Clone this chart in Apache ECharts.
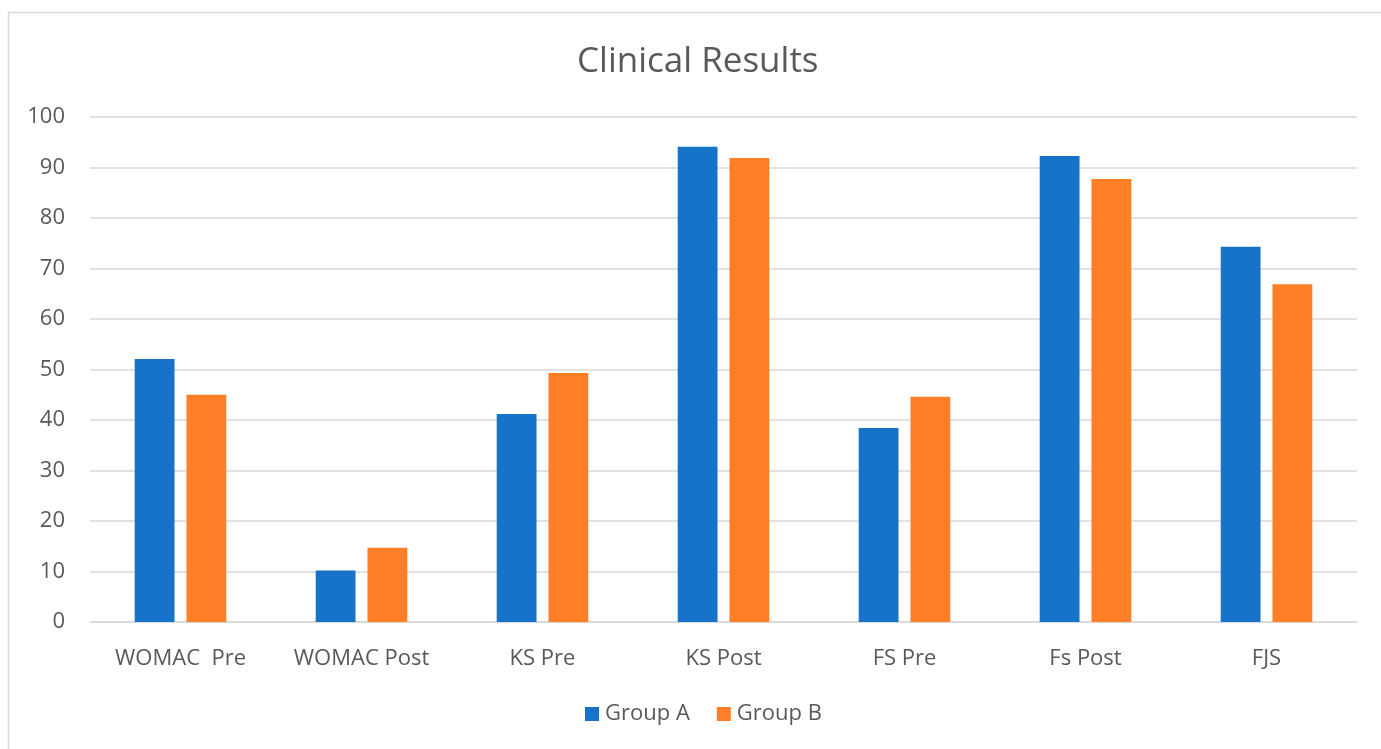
<!DOCTYPE html>
<html>
<head>
<meta charset="utf-8">
<script src="https://cdn.jsdelivr.net/npm/echarts@6/dist/echarts.min.js"></script>
<style>html,body{margin:0;padding:0;background:#fff}#c{width:1381px;height:749px}</style>
</head>
<body>
<div id="c"></div>
<script>
const categories = ['WOMAC  Pre', 'WOMAC Post', 'KS Pre', 'KS Post', 'FS Pre', 'Fs Post', 'FJS'];
const groupA = [52.1, 10.2, 41.2, 94.1, 38.4, 92.3, 74.3];
const groupB = [45.0, 14.7, 49.3, 91.9, 44.6, 87.7, 66.9];
const yTicks = [0, 10, 20, 30, 40, 50, 60, 70, 80, 90, 100];

const font = '"Open Sans", "Liberation Sans", sans-serif';
const chart = echarts.init(document.getElementById('c'), null, {renderer: 'canvas'});
chart.setOption({
  animation: false,
  backgroundColor: '#fff',
  graphic: [{
    type: 'rect', shape: {x: 8.5, y: 12.5, width: 1400, height: 800},
    style: {fill: 'none', stroke: '#d9d9d9', lineWidth: 1.5}, z: -1
  }],
  title: {
    text: 'Clinical Results', left: 572, top: 40,
    textStyle: {fontFamily: font, fontSize: 35, fontWeight: 'normal', color: '#595959'}
  },
  legend: {
    data: ['Group A', 'Group B'], bottom: 19, left: 580,
    icon: 'rect', itemWidth: 14, itemHeight: 14, itemGap: 27,
    textStyle: {fontFamily: font, fontSize: 22, color: '#595959', padding: [0, 0, 0, 1]}
  },
  grid: {left: 90, right: 24, top: 117, bottom: 127, containLabel: false},
  xAxis: {
    type: 'category', data: categories,
    axisLine: {lineStyle: {color: '#d9d9d9', width: 1.5}},
    axisTick: {show: false},
    axisLabel: {fontFamily: font, fontSize: 22, color: '#595959', margin: 26}
  },
  yAxis: {
    type: 'value', min: 0, max: 100, interval: 10,
    axisLine: {show: false}, axisTick: {show: false},
    splitLine: {lineStyle: {color: '#d9d9d9', width: 1.5}},
    axisLabel: {fontFamily: font, fontSize: 22, color: '#595959', margin: 25,
      formatter: v => yTicks.includes(v) ? String(v) : ''}
  },
  series: [
    {name: 'Group A', type: 'bar', data: groupA, barWidth: '22%', barGap: '30%',
     itemStyle: {color: '#1772c9'}},
    {name: 'Group B', type: 'bar', data: groupB, barWidth: '22%',
     itemStyle: {color: '#ff7f27'}}
  ]
});
</script>
</body>
</html>
